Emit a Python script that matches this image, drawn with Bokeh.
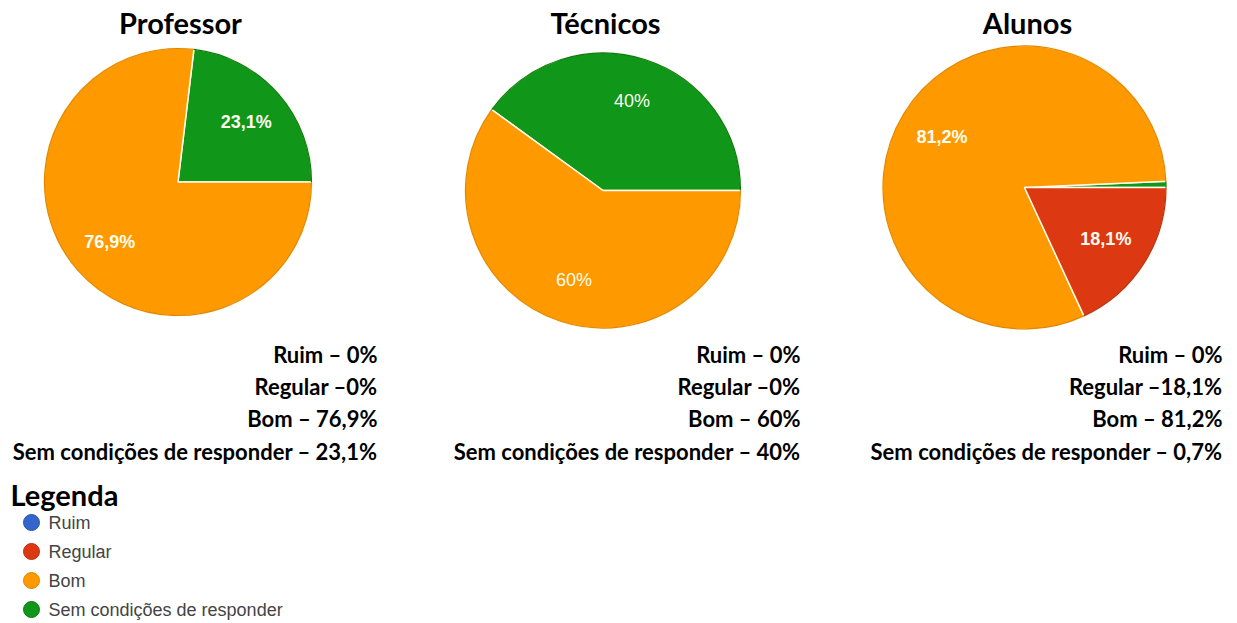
import math
from bokeh.plotting import figure
from bokeh.models import Range1d, ColumnDataSource
from bokeh.core.properties import value
from bokeh.embed import file_html
from bokeh.resources import INLINE

# ---- data ----
categories = ["Ruim", "Regular", "Bom", "Sem condições de responder"]
groups = ["Professor", "Técnicos", "Alunos"]
professor = [0.0, 0.0, 76.9, 23.1]
tecnicos = [0.0, 0.0, 60.0, 40.0]
alunos = [0.0, 18.1, 81.2, 0.7]
slice_labels = [
    ["", "", "76,9%", "23,1%"],
    ["", "", "60%", "40%"],
    ["", "18,1%", "81,2%", ""],
]
summary_lines = [
    ["Ruim – 0%", "Regular –0%", "Bom – 76,9%", "Sem condições de responder – 23,1%"],
    ["Ruim – 0%", "Regular –0%", "Bom – 60%", "Sem condições de responder – 40%"],
    ["Ruim – 0%", "Regular –18,1%", "Bom – 81,2%", "Sem condições de responder – 0,7%"],
]
legend_title = "Legenda"

# ---- style / layout ----
colors = {"Ruim": "#3366CC", "Regular": "#DC3912", "Bom": "#FF9900",
          "Sem condições de responder": "#109618"}
edge_colors = {"Ruim": "#2a55aa", "Regular": "#b8300f", "Bom": "#e08600",
               "Sem condições de responder": "#0c7a13"}
# counterclockwise drawing order starting at 3 o'clock
draw_order = ["Sem condições de responder", "Ruim", "Bom", "Regular"]
centers = [(177.5, 181.5), (602.5, 190.0), (1024.0, 187.0)]
radii = [134.0, 138.0, 142.0]
title_x = [180, 605, 1027]
block_right = [377, 800, 1222]
label_bold = ["bold", "normal", "bold"]

W, H = 1237, 623
def Y(py):
    return H - py

p = figure(width=W, height=H, output_backend="svg", toolbar_location=None,
           x_range=Range1d(0, W), y_range=Range1d(0, H),
           min_border=0)
p.axis.visible = False
p.grid.visible = False
p.outline_line_color = None
p.background_fill_color = "white"

all_vals = [professor, tecnicos, alunos]
for gi, vals in enumerate(all_vals):
    cx, cy = centers[gi]
    r = radii[gi]
    d = dict(zip(categories, vals))
    lab = dict(zip(categories, slice_labels[gi]))
    start = 0.0
    ws, we, cols, ecols, lx, ly, lt = [], [], [], [], [], [], []
    for cat in draw_order:
        v = d[cat]
        if v <= 0:
            continue
        a0 = start
        a1 = start + v / 100.0 * 2 * math.pi
        ws.append(a0); we.append(a1)
        cols.append(colors[cat]); ecols.append(edge_colors[cat])
        mid = (a0 + a1) / 2
        if lab[cat]:
            lx.append(cx + 0.68 * r * math.cos(mid))
            ly.append(Y(cy) + 0.68 * r * math.sin(mid))
            lt.append(lab[cat])
        start = a1
    src = ColumnDataSource(dict(x=[cx] * len(ws), y=[Y(cy)] * len(ws),
                                s=ws, e=we, c=cols, ec=ecols))
    p.wedge(x="x", y="y", radius=r, start_angle="s", end_angle="e",
            fill_color="c", line_color="#fffbe6", line_width=1.5, source=src)
    p.arc(x="x", y="y", radius=r - 0.5, start_angle="s", end_angle="e",
          line_color="ec", line_width=1.2, source=src)
    p.text(x=lx, y=ly, text=lt, text_color="#fffdf0",
           text_font=value("Liberation Sans"), text_font_size="18px",
           text_font_style=label_bold[gi],
           text_align="center", text_baseline="middle")
    # title
    p.text(x=[title_x[gi]], y=[Y(22)], text=[groups[gi]], text_color="black",
           text_font=value("Lato"), text_font_size="29px", text_font_style="bold",
           text_align="center", text_baseline="middle")
    # summary block
    line_y = [354, 386, 418, 451]
    p.text(x=[block_right[gi]] * 4, y=[Y(v) for v in line_y], text=summary_lines[gi],
           text_color="black", text_font=value("Lato"), text_font_size="22px",
           text_font_style="bold", text_align="right", text_baseline="middle")

# legend
p.text(x=[10], y=[Y(494)], text=[legend_title], text_color="black",
       text_font=value("Lato"), text_font_size="29px", text_font_style="bold",
       text_align="left", text_baseline="middle")
leg_y = [522, 551, 580, 609]
p.scatter(x=[31] * 4, y=[Y(v) for v in leg_y], size=16,
          fill_color=[colors[c] for c in categories],
          line_color=[edge_colors[c] for c in categories], line_width=1)
p.text(x=[48] * 4, y=[Y(v) for v in leg_y], text=categories, text_color="#444444",
       text_font=value("Liberation Sans"), text_font_size="18px",
       text_align="left", text_baseline="middle")

open("out.html", "w").write(file_html(p, INLINE))
